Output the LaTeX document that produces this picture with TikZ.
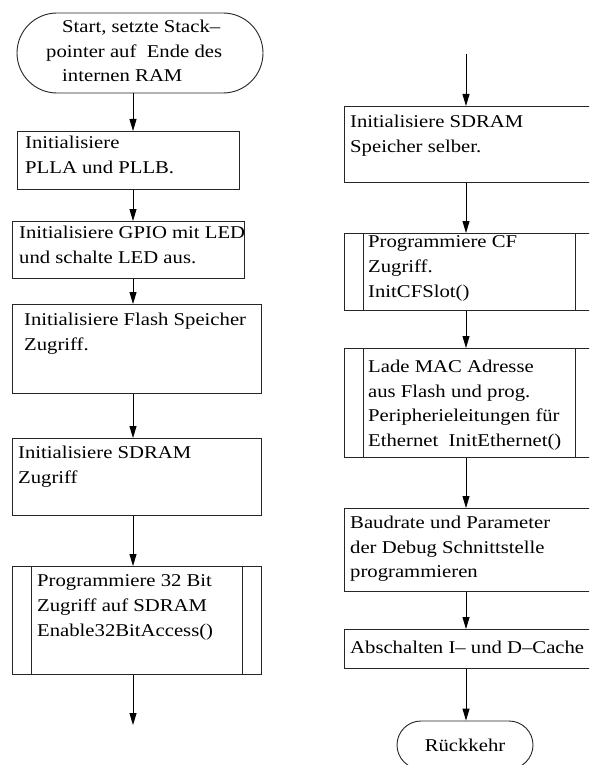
\documentclass[tikz,border=0pt]{standalone}
\usepackage{fontspec}
\setmainfont{Liberation Serif}[FakeStretch=1.15]
\usetikzlibrary{arrows.meta}
\tikzset{
  box/.style={draw=black!85, line width=0.9pt, rectangle, inner sep=0pt, anchor=north west},
  term/.style={draw=black!85, line width=0.9pt, rectangle, rounded corners=#1, inner sep=0pt},
  term/.default=20pt,
  txt/.style={anchor=north west, inner sep=0pt, align=left, yshift=17.36pt,
    font=\fontsize{18}{24.8}\selectfont, execute at begin node=\strut},
  flow/.style={line width=0.9pt, -{Triangle[length=12pt,width=7pt]}},
  sub/.style={draw=black!85, line width=0.9pt},
}
\begin{document}
\begin{tikzpicture}[x=1pt,y=-1pt]
  \useasboundingbox (0,0) rectangle (589,765);
  \fill[white] (0,0) rectangle (589,765);
  \clip (0,0) rectangle (589,765);

  % left column
  \coordinate (axL) at (133,0);
  \node[term=40pt, minimum width=246pt, minimum height=80pt] (start) at (140,53) {};
  \node[txt] (tstart) at (62,37) {Start, setzte Stack–\\\hspace*{-16pt}pointer auf\ \ Ende des\\internen RAM};

  \node[box, minimum width=222pt, minimum height=58pt] (b1) at (17,131) {};
  \node[txt] (t1) at (25,153) {Initialisiere\\PLLA und PLLB.};

  \node[box, minimum width=232pt, minimum height=57pt] (b2) at (12,221) {};
  \node[txt] (t2) at (19,243) {Initialisiere GPIO mit LED\\und schalte LED aus.};

  \node[box, minimum width=249pt, minimum height=89pt] (b3) at (12,304) {};
  \node[txt] (t3) at (24,330) {Initialisiere Flash Speicher\\Zugriff.};

  \node[box, minimum width=249pt, minimum height=77pt] (b4) at (12,438) {};
  \node[txt] (t4) at (18,463) {Initialisiere SDRAM\\Zugriff};

  \node[box, minimum width=249pt, minimum height=108pt] (b5) at (12,566) {};
  \draw[sub] ([xshift=19pt]b5.north west) -- ([xshift=19pt]b5.south west);
  \draw[sub] ([xshift=-19pt]b5.north east) -- ([xshift=-19pt]b5.south east);
  \node[txt] (t5) at (37,592) {Programmiere 32 Bit\\Zugriff auf SDRAM\\Enable32BitAccess()};

  \coordinate (endL) at (133,725);

  \draw[flow] (start.south -| axL) -- (b1.north -| axL);
  \draw[flow] (b1.south -| axL) -- (b2.north -| axL);
  \draw[flow] (b2.south -| axL) -- (b3.north -| axL);
  \draw[flow] (b3.south -| axL) -- (b4.north -| axL);
  \draw[flow] (b4.south -| axL) -- (b5.north -| axL);
  \draw[flow] (b5.south -| axL) -- (endL);

  % right column
  \coordinate (axR) at (466,0);
  \coordinate (topR) at (466,54);

  \node[box, minimum width=250pt, minimum height=76pt] (r1) at (344,106) {};
  \node[txt] (u1) at (350,132) {Initialisiere SDRAM\\Speicher selber.};

  \node[box, minimum width=250pt, minimum height=77pt] (r2) at (344,233) {};
  \draw[sub] ([xshift=19pt]r2.north west) -- ([xshift=19pt]r2.south west);
  \draw[sub] ([xshift=-19pt]r2.north east) -- ([xshift=-19pt]r2.south east);
  \node[txt] (u2) at (368,253) {Programmiere CF\\Zugriff.\\InitCFSlot()};

  \node[box, minimum width=250pt, minimum height=109pt] (r3) at (344,348) {};
  \draw[sub] ([xshift=19pt]r3.north west) -- ([xshift=19pt]r3.south west);
  \draw[sub] ([xshift=-19pt]r3.north east) -- ([xshift=-19pt]r3.south east);
  \node[txt] (u3) at (368,377) {Lade MAC Adresse\\aus Flash und prog.\\Peripherieleitungen für\\Ethernet\ \ InitEthernet()};

  \node[box, minimum width=250pt, minimum height=83pt] (r4) at (344,508) {};
  \node[txt] (u4) at (350,533) {Baudrate und Parameter\\der Debug Schnittstelle\\programmieren};

  \node[box, minimum width=250pt, minimum height=39pt] (r5) at (344,629) {};
  \node[txt] (u5) at (350,653) {Abschalten I– und D–Cache};

  \node[term=24pt, minimum width=136pt, minimum height=48pt,
        font=\fontsize{18}{24.8}\selectfont] (ret) at (465,745) {Rückkehr};

  \draw[flow] (topR) -- (r1.north -| axR);
  \draw[flow] (r1.south -| axR) -- (r2.north -| axR);
  \draw[flow] (r2.south -| axR) -- (r3.north -| axR);
  \draw[flow] (r3.south -| axR) -- (r4.north -| axR);
  \draw[flow] (r4.south -| axR) -- (r5.north -| axR);
  \draw[flow] (r5.south -| axR) -- (ret.north -| axR);
\end{tikzpicture}
\end{document}
